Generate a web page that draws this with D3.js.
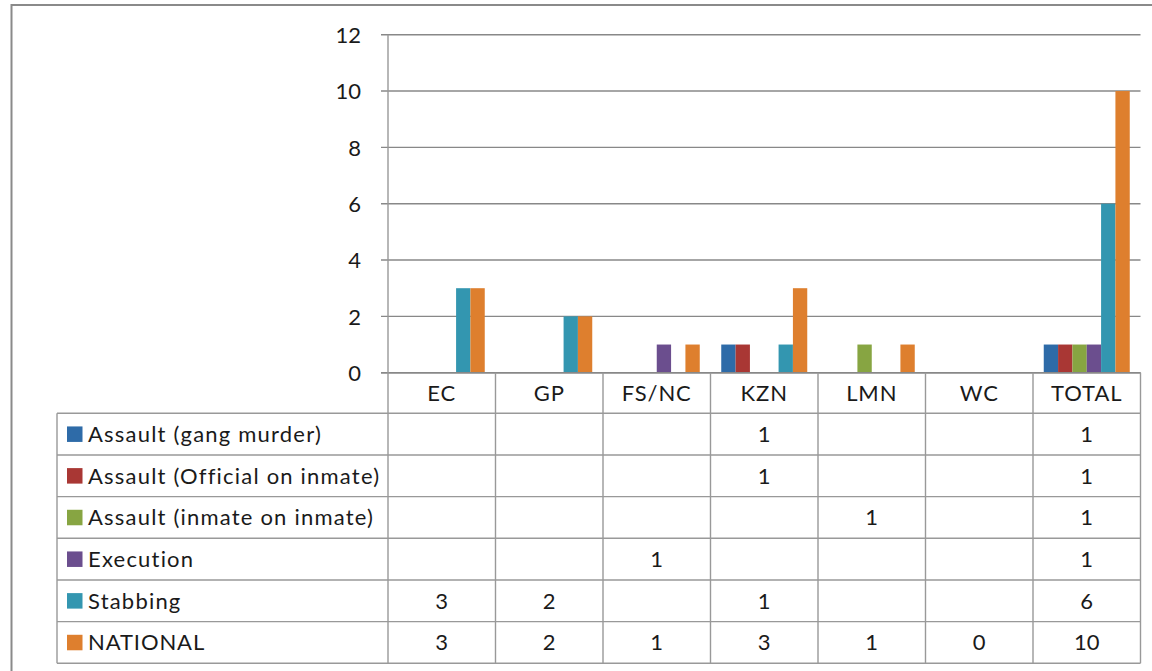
<!DOCTYPE html>
<html>
<head>
<meta charset="utf-8">
<script src="https://cdn.jsdelivr.net/npm/d3@7"></script>
<style>
  html, body { margin: 0; padding: 0; background: #fff; overflow: hidden; }
  svg { display: block; }
  text { font-family: Lato, "Open Sans", sans-serif; fill: #1a1a1a; }
</style>
</head>
<body>
<svg id="chart" width="1152" height="671"></svg>
<script>
// Regions shown along the category axis (and as table columns)
const categories = ["EC", "GP", "FS/NC", "KZN", "LMN", "WC", "TOTAL"];

// Series names, in drawing / table order
const seriesNames = [
  "Assault (gang murder)",
  "Assault (Official on inmate)",
  "Assault (inmate on inmate)",
  "Execution",
  "Stabbing",
  "NATIONAL"
];

// Values per region (null = blank cell, no bar)
const gangMurder      = [null, null, null, 1, null, null, 1];
const officialInmate  = [null, null, null, 1, null, null, 1];
const inmateOnInmate  = [null, null, null, null, 1, null, 1];
const execution       = [null, null, 1, null, null, null, 1];
const stabbing        = [3, 2, null, 1, null, null, 6];
const national        = [3, 2, 1, 3, 1, 0, 10];

const seriesColors = ["#2e6ba8", "#a93734", "#87a542", "#6b4e8e", "#3396b0", "#de7f2e"];

const yTicks = [0, 2, 4, 6, 8, 10, 12];

const seriesValues = [gangMurder, officialInmate, inmateOnInmate, execution, stabbing, national];

const svg = d3.select("#chart");

// outer frame
svg.append("rect")
  .attr("x", 11.5).attr("y", 5)
  .attr("width", 1200).attr("height", 700)
  .attr("fill", "none").attr("stroke", "#8a8a8a").attr("stroke-width", 2);

// layout
const plotLeft = 388, plotRight = 1140.5;
const plotTop = 34.7, plotBottom = 372.7;
const tableLeft = 57;
const headerBottom = 413.3;
const rowH = 41.67;
const gridColor = "#888888";
const tableColor = "#999999";
const textSize = "22px";
const textSpacing = "0.9px";
const legendSpacing = "1.2px";

const x = d3.scaleBand().domain(categories).range([plotLeft, plotRight]).padding(0);
const band = x.bandwidth();
const barW = band / 7.5;                 // 150% gap width
const x1 = d3.scaleBand().domain(d3.range(seriesNames.length))
  .range([barW * 0.75, band - barW * 0.75]).padding(0);

const y = d3.scaleLinear().domain([0, 12]).range([plotBottom, plotTop]);

// gridlines + value axis
const yAxis = d3.axisLeft(y).tickValues(yTicks).tickSize(0).tickPadding(0).tickFormat(d3.format("d"));
const gAxis = svg.append("g").attr("transform", `translate(${plotLeft},0)`).call(yAxis);
gAxis.select(".domain").remove();
gAxis.selectAll(".tick text")
  .attr("x", -27).attr("dy", "0.35em")
  .style("font-size", textSize).style("font-family", "Lato, sans-serif").attr("fill", "#1a1a1a");

svg.append("g").selectAll("line").data(yTicks).join("line")
  .attr("x1", plotLeft - 7).attr("x2", plotRight)
  .attr("y1", d => y(d)).attr("y2", d => y(d))
  .attr("stroke", gridColor).attr("stroke-width", 1.4);

// bars
const groups = svg.append("g").selectAll("g").data(categories).join("g")
  .attr("transform", d => `translate(${x(d)},0)`);

groups.selectAll("rect")
  .data((cat, ci) => seriesValues.map((vals, si) => ({ si, v: vals[ci] })).filter(d => d.v))
  .join("rect")
  .attr("x", d => x1(d.si))
  .attr("width", x1.bandwidth())
  .attr("y", d => y(d.v))
  .attr("height", d => y(0) - y(d.v))
  .attr("fill", d => seriesColors[d.si]);

// redraw baseline over bars
svg.append("line")
  .attr("x1", plotLeft - 7).attr("x2", plotRight)
  .attr("y1", y(0)).attr("y2", y(0))
  .attr("stroke", gridColor).attr("stroke-width", 1.4);

// data table
const table = svg.append("g");
const tableBottom = headerBottom + rowH * seriesNames.length;

// vertical lines at category boundaries
const colEdges = categories.map(c => x(c)).concat([plotRight]);
table.selectAll("line.col").data(colEdges).join("line")
  .attr("class", "col")
  .attr("x1", d => d).attr("x2", d => d)
  .attr("y1", (d, i) => i === 0 ? plotTop : plotBottom)
  .attr("y2", tableBottom)
  .attr("stroke", tableColor).attr("stroke-width", 1.4);

// left edge of label column
table.append("line")
  .attr("x1", tableLeft).attr("x2", tableLeft)
  .attr("y1", headerBottom).attr("y2", tableBottom)
  .attr("stroke", tableColor).attr("stroke-width", 1.4);

// horizontal row lines
const rowEdges = d3.range(seriesNames.length + 1).map(i => headerBottom + i * rowH);
table.selectAll("line.row").data(rowEdges).join("line")
  .attr("class", "row")
  .attr("x1", tableLeft).attr("x2", plotRight)
  .attr("y1", d => d).attr("y2", d => d)
  .attr("stroke", tableColor).attr("stroke-width", 1.4);

// category headers
table.selectAll("text.cat").data(categories).join("text")
  .attr("class", "cat")
  .attr("x", d => x(d) + band / 2)
  .attr("y", (plotBottom + headerBottom) / 2)
  .attr("dy", "0.36em")
  .attr("text-anchor", "middle")
  .style("font-size", textSize)
  .style("letter-spacing", textSpacing)
  .text(d => d);

// legend keys + series names
const rows = table.selectAll("g.srow").data(seriesNames).join("g")
  .attr("class", "srow")
  .attr("transform", (d, i) => `translate(0,${headerBottom + i * rowH})`);

rows.append("rect")
  .attr("x", 67).attr("y", rowH / 2 - 7.7)
  .attr("width", 15.5).attr("height", 15.5)
  .attr("fill", (d, i) => seriesColors[i]);

rows.append("text")
  .attr("x", 88).attr("y", rowH / 2).attr("dy", "0.36em")
  .style("font-size", textSize)
  .style("letter-spacing", (d, i) => d === "NATIONAL" ? textSpacing : legendSpacing)
  .text(d => d);

// cell values
rows.each(function(name, si) {
  d3.select(this).selectAll("text.val")
    .data(seriesValues[si].map((v, ci) => ({ v, c: categories[ci] })).filter(d => d.v !== null))
    .join("text")
    .attr("class", "val")
    .attr("x", d => x(d.c) + band / 2)
    .attr("y", rowH / 2).attr("dy", "0.36em")
    .attr("text-anchor", "middle")
    .style("font-size", textSize)
    .text(d => d.v);
});
</script>
</body>
</html>
